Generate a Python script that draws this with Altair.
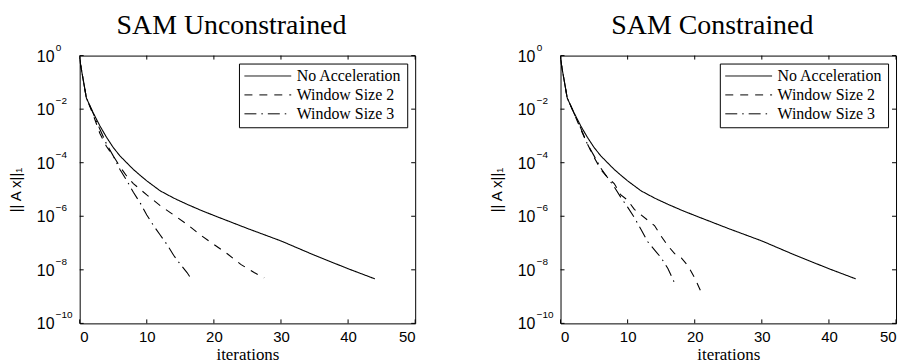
import altair as alt
import pandas as pd

series_names = ["No Acceleration", "Window Size 2", "Window Size 3"]

# ---- SAM Unconstrained ----
u_noacc_x = [0, 1, 2, 3, 4, 5, 6, 7, 8, 9, 10, 12, 14, 16, 18, 20, 25, 30, 35, 40, 44]
u_noacc_y = [7.1e-1, 2.6e-2, 7.4e-3, 2.4e-3, 8.9e-4, 3.7e-4, 1.8e-4, 1.0e-4, 5.6e-5, 3.4e-5,
             2.1e-5, 8.9e-6, 4.8e-6, 2.8e-6, 1.7e-6, 1.07e-6, 3.5e-7, 1.2e-7, 3.5e-8, 1.1e-8, 4.6e-9]
u_w2_x = [0, 1, 2, 3, 4, 5, 6, 7, 8, 10, 12, 14, 16, 18, 20, 22, 24, 26, 27.5]
u_w2_y = [7.1e-1, 2.6e-2, 6.3e-3, 1.26e-3, 4.0e-4, 1.8e-4, 7.1e-5, 3.2e-5, 1.66e-5, 6.3e-6,
          2.5e-6, 1.12e-6, 5.0e-7, 2.0e-7, 8.9e-8, 4.0e-8, 1.6e-8, 7.9e-9, 5.0e-9]
u_w3_x = [0, 1, 2, 3, 4, 5, 6, 7, 8, 9, 10, 11, 12, 13, 14, 15, 16, 16.6]
u_w3_y = [7.1e-1, 2.6e-2, 7.1e-3, 1.8e-3, 5.0e-4, 1.8e-4, 5.6e-5, 2.2e-5, 7.9e-6, 3.2e-6,
          1.12e-6, 4.5e-7, 2.0e-7, 8.9e-8, 3.5e-8, 1.6e-8, 7.9e-9, 4.7e-9]

# ---- SAM Constrained ----
c_noacc_x = [0, 1, 2, 3, 4, 5, 6, 7, 8, 9, 10, 12, 14, 16, 18, 20, 25, 30, 35, 40, 44]
c_noacc_y = [7.1e-1, 2.6e-2, 7.4e-3, 2.4e-3, 8.9e-4, 3.7e-4, 1.8e-4, 1.0e-4, 5.6e-5, 3.4e-5,
             2.1e-5, 8.9e-6, 4.8e-6, 2.8e-6, 1.7e-6, 1.07e-6, 3.5e-7, 1.2e-7, 3.5e-8, 1.1e-8, 4.6e-9]
c_w2_x = [0, 1, 2, 3, 4, 5, 6, 7, 8, 9, 10, 11, 12, 13, 14, 15, 16, 17, 18, 19, 20, 21]
c_w2_y = [7.1e-1, 2.6e-2, 7.1e-3, 1.8e-3, 5.0e-4, 1.6e-4, 5.6e-5, 2.8e-5, 1.66e-5, 6.3e-6,
          4.0e-6, 1.8e-6, 1.12e-6, 7.1e-7, 4.5e-7, 1.8e-7, 7.9e-8, 4.0e-8, 2.8e-8, 1.4e-8,
          5.0e-9, 1.4e-9]
c_w3_x = [0, 1, 2, 3, 4, 5, 6, 7, 8, 9, 10, 11, 12, 13, 14, 15, 16, 17]
c_w3_y = [7.1e-1, 2.6e-2, 7.1e-3, 2.0e-3, 5.0e-4, 1.8e-4, 6.3e-5, 2.8e-5, 1.26e-5, 5.0e-6,
          2.2e-6, 8.9e-7, 3.2e-7, 1.12e-7, 5.6e-8, 2.8e-8, 1.12e-8, 3.2e-9]

x_ticks = [0, 10, 20, 30, 40, 50]
y_ticks = [1e-10, 1e-8, 1e-6, 1e-4, 1e-2, 1]
y_tick_base = ["10", "10", "10", "10", "10", "10"]
y_tick_exp = ["−10", "−8", "−6", "−4", "−2", "0"]

W, H = 337, 269
SERIF = "Liberation Serif"
SANS = "Liberation Sans"


def make_df(xs_list, ys_list):
    rows = []
    for name, xs, ys in zip(series_names, xs_list, ys_list):
        for xv, yv in zip(xs, ys):
            rows.append({"x": xv, "y": yv, "series": name})
    return pd.DataFrame(rows)


def panel(title, df):
    lines = alt.Chart(df).mark_line(color="black", strokeWidth=1.1, clip=True).encode(
        x=alt.X("x:Q", scale=alt.Scale(domain=[0, 50], nice=False),
                axis=alt.Axis(values=x_ticks, title="iterations", labelPadding=6,
                              titleFont=SERIF, titleFontSize=17, titleFontWeight="normal",
                              titlePadding=2)),
        y=alt.Y("y:Q", scale=alt.Scale(type="log", domain=[1e-10, 1], nice=False),
                axis=alt.Axis(values=y_ticks, labels=False, title="|| A x||₁",
                              titleFont=SANS, titleFontSize=15,
                              titleFontWeight="normal", titlePadding=56)),
        strokeDash=alt.StrokeDash(
            "series:N",
            scale=alt.Scale(domain=series_names, range=[[1, 0], [8, 7], [12, 5, 1.5, 5]]),
            legend=alt.Legend(orient="top-right", offset=8, title=None,
                              strokeColor="black", fillColor="white", padding=5,
                              labelFont=SERIF, labelFontSize=16, labelColor="black",
                              symbolType="stroke", symbolStrokeWidth=1,
                              symbolStrokeColor="black", symbolSize=2209,
                              clipHeight=15, labelOffset=5, rowPadding=2),
        ),
        order="x:Q",
    )
    xt = pd.DataFrame({"x": x_ticks})
    yt = pd.DataFrame({"y": y_ticks, "base": y_tick_base, "exp": y_tick_exp})
    tb = alt.Chart(xt).mark_rule(color="black", strokeWidth=1).encode(
        x="x:Q", y=alt.value(H), y2=alt.value(H - 4))
    tt = alt.Chart(xt).mark_rule(color="black", strokeWidth=1).encode(
        x="x:Q", y=alt.value(0), y2=alt.value(4))
    tl = alt.Chart(yt).mark_rule(color="black", strokeWidth=1).encode(
        y="y:Q", x=alt.value(0), x2=alt.value(4))
    tr = alt.Chart(yt).mark_rule(color="black", strokeWidth=1).encode(
        y="y:Q", x=alt.value(W), x2=alt.value(W - 4))
    lab_base = alt.Chart(yt).mark_text(
        align="left", baseline="middle", font=SANS, fontSize=16, color="black", dy=1
    ).encode(y="y:Q", x=alt.value(-43), text="base:N")
    lab_exp = alt.Chart(yt).mark_text(
        align="left", baseline="middle", font=SANS, fontSize=10, color="black", dy=-8
    ).encode(y="y:Q", x=alt.value(-24), text="exp:N")
    return alt.layer(lines, tb, tt, tl, tr, lab_base, lab_exp).properties(
        width=W, height=H,
        title=alt.TitleParams(title, font=SERIF, fontSize=28, fontWeight="normal",
                              color="black", anchor="middle", dx=-16, offset=3),
    )


left = panel("SAM Unconstrained",
             make_df([u_noacc_x, u_w2_x, u_w3_x], [u_noacc_y, u_w2_y, u_w3_y]))
right = panel("SAM Constrained",
              make_df([c_noacc_x, c_w2_x, c_w3_x], [c_noacc_y, c_w2_y, c_w3_y]))

chart = alt.hconcat(left, right, spacing=73).resolve_scale(
    strokeDash="independent").resolve_legend(strokeDash="independent").properties(
    padding={"left": 0, "top": 2, "right": 5, "bottom": 0}
).configure_view(stroke="black", strokeWidth=1).configure_axis(
    labelFont=SANS, labelFontSize=15, labelColor="black", titleColor="black",
    grid=False, domain=False, ticks=False,
)

chart.save("out.html", embed_options={"renderer": "svg", "actions": False})
